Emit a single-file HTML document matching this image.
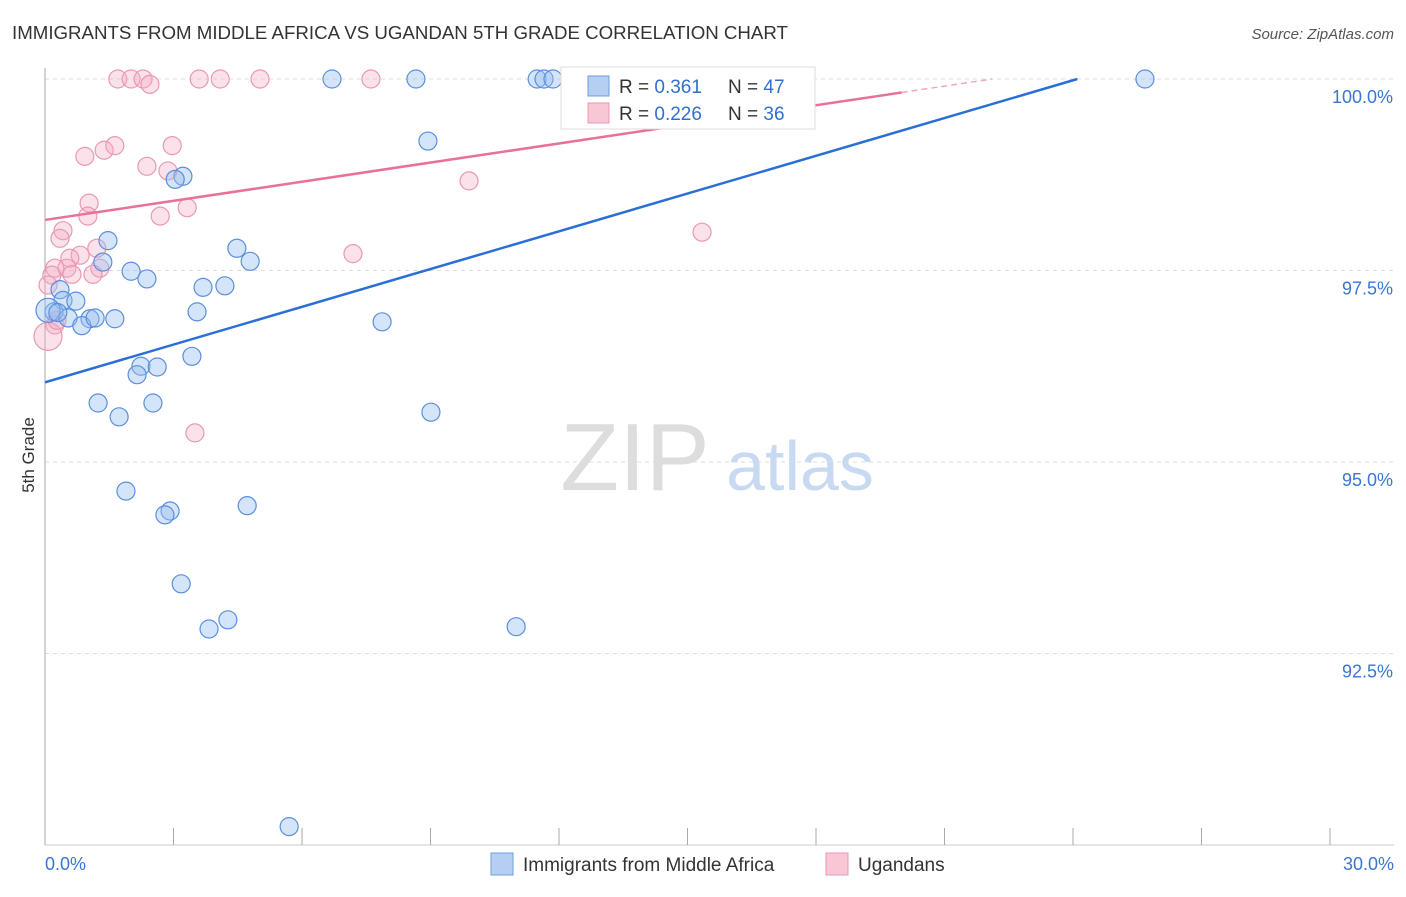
<!DOCTYPE html>
<html><head><meta charset="utf-8"><style>
body{margin:0;background:#fff;font-family:"Liberation Sans",sans-serif;}
svg text{font-family:"Liberation Sans",sans-serif;}
</style></head><body>
<svg id="c" width="1406" height="892" xmlns="http://www.w3.org/2000/svg">
<text x="12" y="39" font-size="18.7" fill="#333">IMMIGRANTS FROM MIDDLE AFRICA VS UGANDAN 5TH GRADE CORRELATION CHART</text>
<text x="1394" y="39" font-size="15" fill="#555" font-style="italic" text-anchor="end">Source: ZipAtlas.com</text>
<text x="34" y="455" font-size="17" fill="#333" transform="rotate(-90 34 455)" text-anchor="middle">5th Grade</text>
<text x="635" y="490" font-size="96" fill="#ddd" font-family="Liberation Serif" text-anchor="middle">ZIP</text>
<text x="800" y="490" font-size="70" fill="#c8daf2" text-anchor="middle">atlas</text>
<g id="grid"></g><g id="axes"></g><g id="pts"></g><g id="lines"></g>
<g>
<rect x="561" y="67" width="254" height="62" fill="#fff" stroke="#ddd"/>
<rect x="588" y="76" width="21" height="20" fill="#b4cff2" stroke="#6d9ee0"/>
<rect x="588" y="103" width="21" height="20" fill="#f8c6d4" stroke="#eb98b2"/>
<text x="619" y="93" font-size="19" fill="#333">R = <tspan fill="#2f6fd0">0.361</tspan><tspan x="728">N = </tspan><tspan fill="#2f6fd0">47</tspan></text>
<text x="619" y="120" font-size="19" fill="#333">R = <tspan fill="#2f6fd0">0.226</tspan><tspan x="728">N = </tspan><tspan fill="#2f6fd0">36</tspan></text>
</g>
<g>
<rect x="491" y="853" width="22" height="22" fill="#b4cff2" stroke="#6d9ee0"/>
<text x="523" y="871" font-size="19" fill="#333">Immigrants from Middle Africa</text>
<rect x="826" y="853" width="22" height="22" fill="#f8c6d4" stroke="#eb98b2"/>
<text x="858" y="871" font-size="19" fill="#333">Ugandans</text>
</g>
</svg>
<script>
const yTicks=[100,97.5,95,92.5];
const yTickLabels=["100.0%","97.5%","95.0%","92.5%"];
const xLabels=["0.0%","30.0%"];
const blueX=[6.70,8.66,11.49,11.65,11.86,25.68,8.94,3.22,3.04,1.47,4.48,4.79,2.01,2.38,3.69,4.20,0.35,0.42,0.72,0.21,3.55,1.05,0.54,1.63,0.86,7.87,3.43,2.24,2.62,2.15,1.24,2.52,1.73,9.01,1.89,4.72,2.92,2.80,3.18,4.27,3.83,11.00,5.70,0.07,0.30,1.35,1.17];
const blueY=[100,100,100,100,100,100,99.19,98.73,98.69,97.89,97.79,97.62,97.49,97.39,97.28,97.30,97.25,97.11,97.10,96.96,96.96,96.87,96.88,96.87,96.78,96.83,96.38,96.25,96.24,96.14,95.77,95.77,95.59,95.65,94.62,94.43,94.36,94.31,93.41,92.94,92.82,92.85,90.24,96.98,96.95,97.61,96.88];
const pinkX=[1.70,2.01,2.29,2.45,3.60,4.09,5.02,7.61,0.93,1.38,1.63,2.97,2.38,2.87,3.32,2.69,1.03,1.00,0.42,0.35,1.21,0.82,0.58,1.28,0.51,0.23,0.63,1.12,0.16,0.07,0.23,0.07,9.90,15.34,7.19,3.50,0.28];
const pinkY=[100,100,100,99.93,100,100,100,100,98.99,99.07,99.13,99.13,98.86,98.80,98.32,98.21,98.38,98.21,98.02,97.92,97.79,97.70,97.66,97.53,97.53,97.53,97.45,97.45,97.44,97.31,96.79,96.64,98.67,98.00,97.72,95.38,96.85];
const blueFit=[96.04,0.1643];
const pinkFit=[98.16,0.0832];
const X=v=>45+v/30*1285, Y=v=>79+(100-v)*76.6;
const NS="http://www.w3.org/2000/svg";
function mk(p,t,a){const e=document.createElementNS(NS,t);for(const k in a)e.setAttribute(k,a[k]);document.getElementById(p).appendChild(e);return e;}
yTicks.forEach((t,i)=>{
 const g=mk('grid','line',{x1:45,x2:1394,y1:Y(t),y2:Y(t),stroke:'#ddd','stroke-dasharray':'4,4'});
 
 
 const l=mk('grid','text',{x:1393,y:Y(t)+24,'font-size':18,fill:'#3a75d6','text-anchor':'end'});l.textContent=yTickLabels[i];
 
 
});
const ax=mk('axes','line',{x1:45,x2:45,y1:68,y2:845,stroke:'#aaa'});


const bx=mk('axes','line',{x1:45,x2:1394,y1:845,y2:845,stroke:'#ccc'});


for(let i=0;i<=10;i++){const t=mk('axes','line',{x1:X(i*3),x2:X(i*3),y1:828,y2:845,stroke:'#aaa'});
 
 }
const xl0=mk('axes','text',{x:45,y:870,'font-size':18,fill:'#3a75d6'});xl0.textContent=xLabels[0];


const xl1=mk('axes','text',{x:1394,y:870,'font-size':18,fill:'#3a75d6','text-anchor':'end'});xl1.textContent=xLabels[1];


pinkX.forEach((x,i)=>{const c=mk('pts','circle',{cx:X(x),cy:Y(pinkY[i]),r:(i==31?14:9),fill:'rgba(244,170,195,0.35)',stroke:'#eb98b2','stroke-width':1.2});
 
 });
blueX.forEach((x,i)=>{const c=mk('pts','circle',{cx:X(x),cy:Y(blueY[i]),r:(i==43?12:9),fill:'rgba(150,190,240,0.4)',stroke:'#5b8fdc','stroke-width':1.2});
 
 });
const bEnd=(100-blueFit[0])/blueFit[1];
const bl=mk('lines','line',{x1:X(0),y1:Y(blueFit[0]),x2:X(bEnd),y2:Y(100),stroke:'#2a6fd6','stroke-width':2.5});


const pl=mk('lines','line',{x1:X(0),y1:Y(pinkFit[0]),x2:X(20),y2:Y(pinkFit[0]+pinkFit[1]*20),stroke:'#e8709a','stroke-width':2.5});


const pEnd=(100-pinkFit[0])/pinkFit[1];
const pd=mk('lines','line',{x1:X(20),y1:Y(pinkFit[0]+pinkFit[1]*20),x2:X(pEnd),y2:Y(100),stroke:'#f0a8c0','stroke-width':1.5,'stroke-dasharray':'6,4'});


</script>
</body></html>
